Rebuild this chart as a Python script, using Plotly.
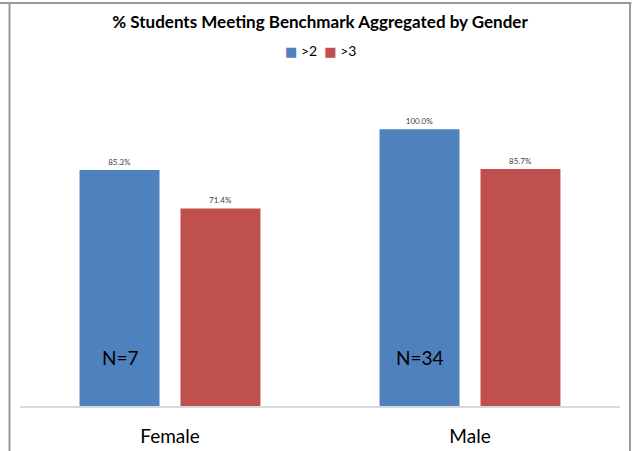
import plotly.graph_objects as go

categories = ["Female", "Male"]
gt2_values = [85.3, 100.0]
gt3_values = [71.4, 85.7]
n_counts = ["N=7", "N=34"]
series_names = [">2", ">3"]

FONT = "Lato, 'Open Sans', sans-serif"
BLUE = "#4F81BD"
RED = "#C0504D"
colors = [BLUE, RED]

fig = go.Figure()
for name, vals, col in zip(series_names, [gt2_values, gt3_values], colors):
    fig.add_trace(go.Bar(
        name=name, x=categories, y=vals,
        marker=dict(color=col, line=dict(width=0)),
        text=[f"{v:.1f}%" for v in vals], textposition="outside",
        textfont=dict(size=8, color="#404040", family=FONT), cliponaxis=False,
        showlegend=False,
    ))

for cat, n in zip(categories, n_counts):
    fig.add_annotation(x=cat, y=17.7, xref="x", yref="y", text=n, showarrow=False,
                       xshift=-50, font=dict(size=19, color="#000000", family=FONT))

# legend drawn as a text line with coloured squares
legend_text = "&nbsp;&nbsp;".join(
    f"<span style='color:{c};font-size:13px;font-family:DejaVu Sans'>■</span> {html}" for c, html in
    zip(colors, [s.replace(">", "&gt;") for s in series_names]))
fig.add_annotation(xref="paper", yref="paper", x=0.5, y=(406 - 50) / 332,
                   xanchor="center", yanchor="middle", showarrow=False,
                   text=legend_text, font=dict(size=14, color="#000000", family=FONT))

# frame lines
line_c = "#9a9a9a"
fig.add_shape(type="line", xref="paper", yref="paper", x0=-0.034, x1=1.019, y0=1.2139, y1=1.2139,
              line=dict(color=line_c, width=2))
fig.add_shape(type="line", xref="paper", yref="paper", x0=-0.0175, x1=-0.0175, y0=1.2139, y1=-0.14,
              line=dict(color=line_c, width=2))
fig.add_shape(type="line", xref="paper", yref="paper", x0=1.0167, x1=1.0167, y0=1.2139, y1=-0.14,
              line=dict(color=line_c, width=2))

fig.update_layout(
    width=632, height=451,
    margin=dict(l=20, r=12, t=74, b=45, autoexpand=False),
    paper_bgcolor="white", plot_bgcolor="white",
    barmode="group", bargap=0.327, bargroupgap=0.208,
    title=dict(text="<b>% Students Meeting Benchmark Aggregated by Gender</b>",
               x=0.5, xref="paper", xanchor="center",
               yref="container", y=1 - 22 / 451, yanchor="middle",
               font=dict(size=17, color="#000000", family=FONT)),
    showlegend=False,
    xaxis=dict(showline=True, linecolor="#d9d9d9", linewidth=1.5,
               ticks="outside", ticklen=12, tickcolor="rgba(0,0,0,0)",
               tickfont=dict(size=19, color="#000000", family=FONT), showgrid=False),
    yaxis=dict(range=[0, 120], visible=False, showgrid=False, zeroline=False),
)

fig.write_html("out.html")
